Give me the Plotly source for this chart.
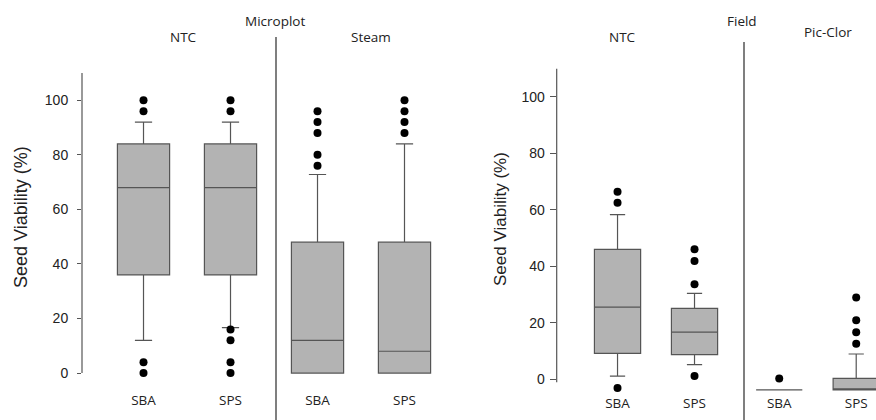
import plotly.graph_objects as go

W, H = 876, 420

# ---------------- data ----------------
micro_cats = ["SBA", "SPS", "SBA", "SPS"]
micro_q1 = [36, 36, 0, 0]
micro_med = [68, 68, 12, 8]
micro_q3 = [84, 84, 48, 48]
micro_lo = [12, 16.7, 0, 0]
micro_hi = [92, 92, 72.8, 84]
micro_out = [[100, 96, 4, 0], [100, 96, 16, 12, 4, 0],
             [96, 92, 88, 80, 76], [100, 96, 92, 88]]

field_cats = ["SBA", "SPS", "SBA", "SPS"]
field_q1 = [9.2, 8.8, -3.7, -3.7]
field_med = [25.6, 16.7, -3.7, -3.7]
field_q3 = [46, 25.1, -3.7, 0.35]
field_lo = [1.2, 5.2, -3.7, -3.7]
field_hi = [58.3, 30.4, -3.7, 9]
field_out = [[66.4, 62.5, -3], [46, 41.9, 33.7, 1.2], [0.35], [29, 20.9, 16.7, 12.6]]

y_ticks = [0, 20, 40, 60, 80, 100]

# positions of the boxes (second group slightly shifted in the field panel)
micro_pos = [0, 1, 2, 3]
field_pos = [0, 1, 2.1, 3.1]

BOX_FILL = "#b3b3b3"
BOX_LINE = "#555555"
TICK_FONT = dict(family="Liberation Sans, Arial, sans-serif", size=14, color="#222")
CAT_FONT = dict(family="Open Sans, Noto Sans, sans-serif", size=13.5, color="#222")

fig = go.Figure()


def add_panel(pos, q1, med, q3, lo, hi, outs, xa, ya):
    for i in range(len(pos)):
        fig.add_trace(go.Box(
            x=[pos[i]], q1=[q1[i]], median=[med[i]], q3=[q3[i]],
            lowerfence=[lo[i]], upperfence=[hi[i]],
            width=0.6, whiskerwidth=0.33, boxpoints=False,
            fillcolor=BOX_FILL, line=dict(color=BOX_LINE, width=1.2),
            xaxis=xa, yaxis=ya, showlegend=False, hoverinfo="skip"))
        fig.add_trace(go.Scatter(
            x=[pos[i]] * len(outs[i]), y=outs[i], mode="markers",
            marker=dict(color="black", size=8),
            xaxis=xa, yaxis=ya, showlegend=False, hoverinfo="skip"))


add_panel(micro_pos, micro_q1, micro_med, micro_q3, micro_lo, micro_hi, micro_out, "x", "y")
add_panel(field_pos, field_q1, field_med, field_q3, field_lo, field_hi, field_out, "x2", "y2")

common_x = dict(showgrid=False, zeroline=False, showline=False, ticks="",
                tickfont=CAT_FONT, tickmode="array")
common_y = dict(showgrid=False, zeroline=False, showline=False, ticks="outside",
                tickcolor=BOX_LINE, tickfont=TICK_FONT, tickmode="array",
                tickvals=y_ticks, ticktext=[str(v) for v in y_ticks])

fig.update_layout(
    width=W, height=H, margin=dict(l=0, r=0, t=0, b=0),
    paper_bgcolor="white", plot_bgcolor="white",
    xaxis=dict(domain=[82 / W, 440 / W], range=[-0.707, 3.408],
               tickvals=micro_pos, ticktext=micro_cats, **common_x),
    yaxis=dict(domain=[30 / H, 347 / H], range=[-6.2, 110], ticklen=4,
               ticklabelstandoff=6, **common_y),
    xaxis2=dict(domain=[556.7 / W, 1], range=[-0.79, 3.357], anchor="y2",
                tickvals=field_pos, ticktext=field_cats, **common_x),
    yaxis2=dict(domain=[27 / H, 351.6 / H], range=[-4.8, 110], anchor="x2",
                ticklen=6, ticklabelstandoff=2, **common_y),
)

# axis lines (only over the data range)
fig.add_shape(type="line", xref="x domain", yref="y", x0=0, x1=0, y0=0, y1=110,
              line=dict(color=BOX_LINE, width=1.2))
fig.add_shape(type="line", xref="x2 domain", yref="y2", x0=0, x1=0, y0=-1, y1=110,
              line=dict(color=BOX_LINE, width=1.2))

# panel dividers
for px, top in [(276, 37), (744, 42)]:
    fig.add_shape(type="line", xref="paper", yref="paper",
                  x0=px / W, x1=px / W, y0=0, y1=1 - top / H,
                  line=dict(color=BOX_LINE, width=1.5))


def label(text, px, py, font, angle=0):
    fig.add_annotation(text=text, x=px / W, y=1 - py / H, xref="paper", yref="paper",
                       showarrow=False, font=font, textangle=angle,
                       xanchor="center", yanchor="middle")


label("Microplot", 275, 21, CAT_FONT)
label("NTC", 183, 37, CAT_FONT)
label("Steam", 371, 37, CAT_FONT)
label("Field", 742, 21, CAT_FONT)
label("NTC", 622, 37, CAT_FONT)
label("Pic-Clor", 828, 32, CAT_FONT)
label("Seed Viability (%)", 21, 217,
      dict(family="Liberation Sans, Arial, sans-serif", size=18, color="#222"), -90)
label("Seed Viability (%)", 500, 219,
      dict(family="Liberation Sans, Arial, sans-serif", size=17, color="#222"), -90)

fig.write_html("out.html", config={"displayModeBar": False},
               post_script="document.body.style.margin='0';")
